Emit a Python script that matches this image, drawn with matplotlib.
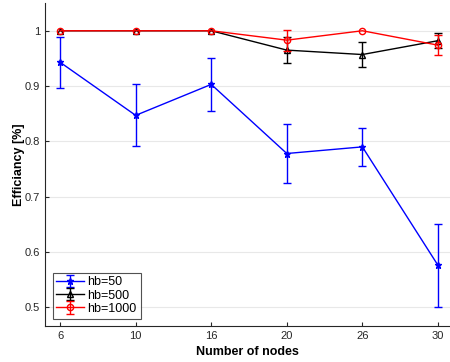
import matplotlib
matplotlib.use('Agg')
import matplotlib.pyplot as plt

nan = float('nan')

nodes = ['6', '10', '16', '20', '26', '30']

hb50 = [0.943, 0.847, 0.903, 0.778, 0.790, 0.576]
hb50_err = [0.046, 0.056, 0.048, 0.053, 0.034, 0.075]

hb500 = [1.0, 1.0, 1.0, 0.965, 0.957, 0.982]
hb500_err = [nan, nan, nan, 0.023, 0.022, 0.014]

hb1000 = [1.0, 1.0, 1.0, 0.983, 1.0, 0.974]
hb1000_err = [nan, nan, nan, 0.019, nan, 0.018]

plt.rcParams['font.family'] = ['Liberation Sans', 'DejaVu Sans']

fig = plt.figure(figsize=(4.5, 3.62), dpi=100)
ax = fig.add_axes([0.1, 0.0994, 0.9, 0.892])

x = list(range(1, len(nodes) + 1))

ax.errorbar(x, hb50, yerr=hb50_err, color='#0000ff', marker='*', markersize=4.5,
            lw=1, capsize=3, elinewidth=1, label='hb=50', zorder=3)
ax.errorbar(x, hb500, yerr=hb500_err, color='black', marker='^', markersize=4.5,
            mfc='none', lw=1, capsize=3, elinewidth=1, label='hb=500', zorder=3)
ax.errorbar(x, hb1000, yerr=hb1000_err, color='#ff0000', marker='o', markersize=4.5,
            mfc='none', lw=1, capsize=3, elinewidth=1, label='hb=1000', zorder=4)

ax.set_xlim(0.8, 6.16)
ax.set_ylim(0.466, 1.05)
ax.set_xticks(x)
ax.set_xticklabels(nodes)
ax.set_yticks([0.5, 0.6, 0.7, 0.8, 0.9, 1.0])
ax.set_yticklabels(['0.5', '0.6', '0.7', '0.8', '0.9', '1'])
ax.tick_params(direction='in', length=3, labelsize=8, colors='#262626', width=0.8)
ax.grid(axis='y', color='#e8e8e8', lw=0.8)
ax.set_axisbelow(True)

for side in ['top', 'right']:
    ax.spines[side].set_visible(False)
for side in ['left', 'bottom']:
    ax.spines[side].set_color('#262626')
    ax.spines[side].set_linewidth(0.8)

ax.set_xlabel('Number of nodes', fontsize=9, fontweight='bold', labelpad=4)
ax.set_ylabel('Efficiancy [%]', fontsize=9, fontweight='bold', labelpad=0)

leg = ax.legend(loc='lower left', fontsize=9, frameon=True, fancybox=False,
                borderpad=0.3, labelspacing=0.1, handlelength=2.2,
                handletextpad=0.3, borderaxespad=0.6)
leg.get_frame().set_edgecolor('#262626')
leg.get_frame().set_linewidth(0.8)

fig.savefig('out.png', dpi=100)
